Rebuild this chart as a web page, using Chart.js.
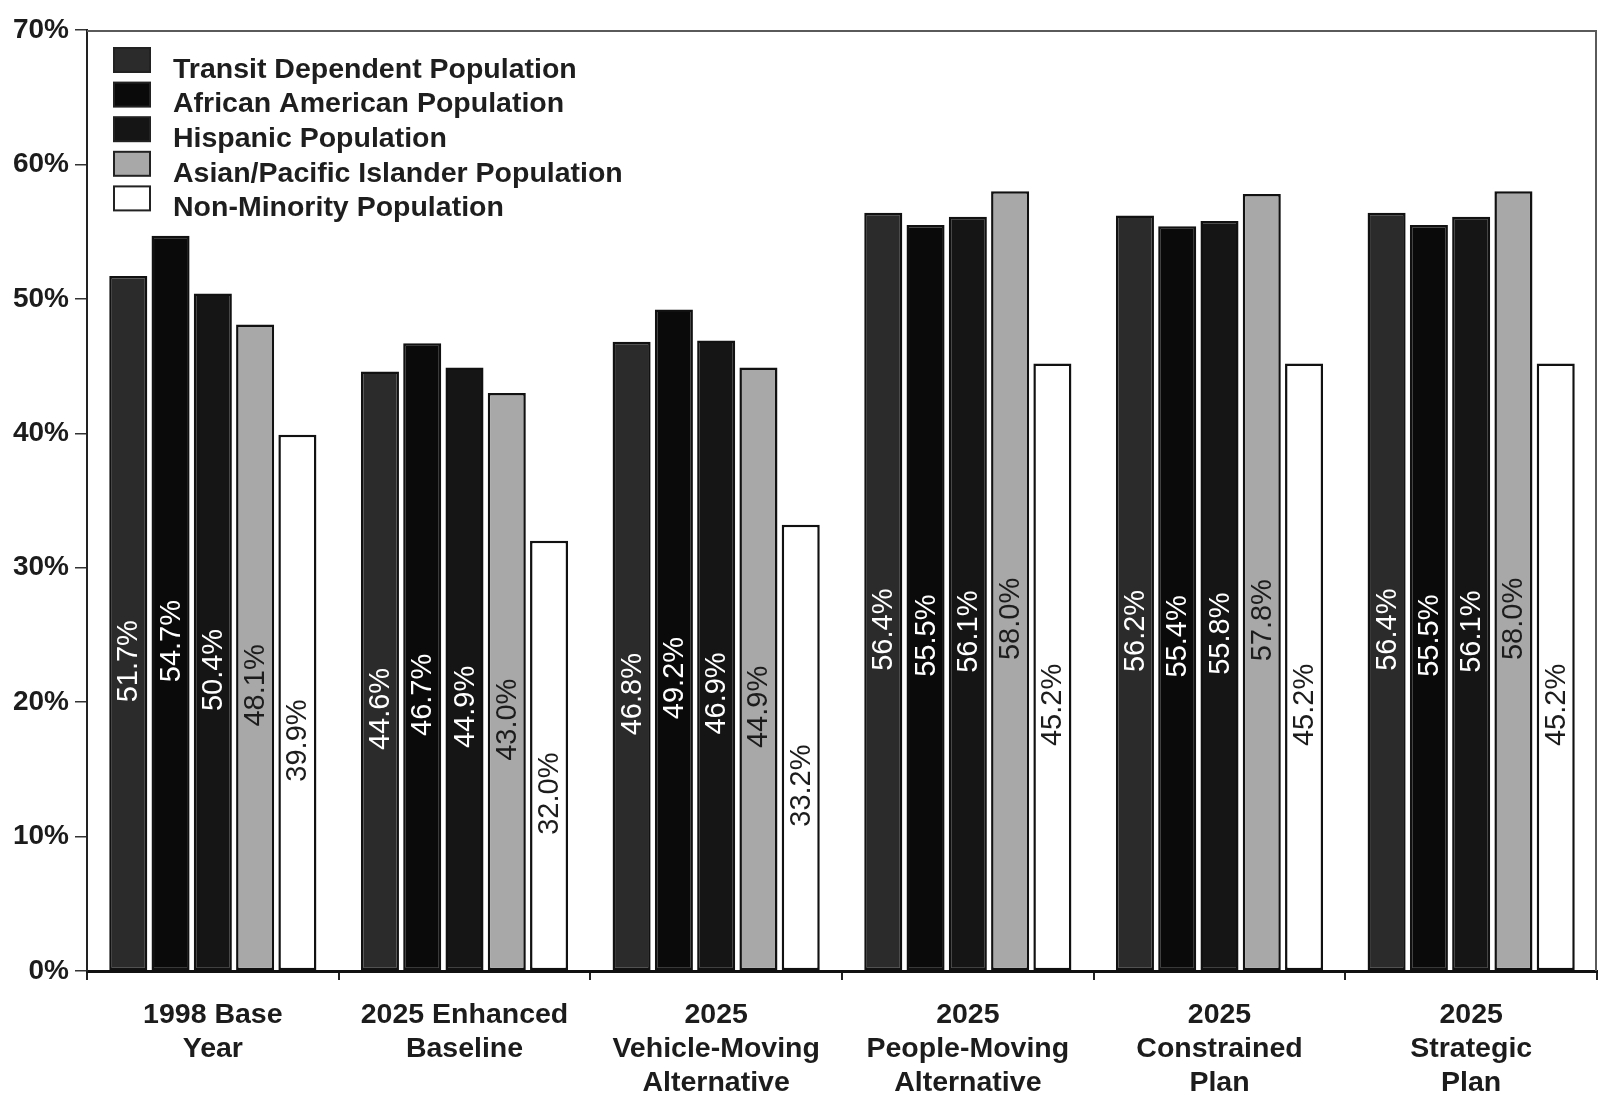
<!DOCTYPE html>
<html>
<head>
<meta charset="utf-8">
<title>Population share by scenario</title>
<script src="https://cdn.jsdelivr.net/npm/chart.js@4/dist/chart.umd.min.js"></script>
<style>
  html, body { margin: 0; padding: 0; background: #ffffff; }
  #wrap { width: 1600px; height: 1096px; position: relative; }
</style>
</head>
<body>
<div id="wrap"><canvas id="chart" width="1600" height="1096"></canvas></div>
<script>
// Scenario categories (multi-line axis labels)
const categories = [
  ["1998 Base", "Year"],
  ["2025 Enhanced", "Baseline"],
  ["2025", "Vehicle-Moving", "Alternative"],
  ["2025", "People-Moving", "Alternative"],
  ["2025", "Constrained", "Plan"],
  ["2025", "Strategic", "Plan"]
];

// Percent of each population group, per scenario
const transitDependent = [51.7, 44.6, 46.8, 56.4, 56.2, 56.4];
const africanAmerican  = [54.7, 46.7, 49.2, 55.5, 55.4, 55.5];
const hispanic         = [50.4, 44.9, 46.9, 56.1, 55.8, 56.1];
const asianPacific     = [48.1, 43.0, 44.9, 58.0, 57.8, 58.0];
const nonMinority      = [39.9, 32.0, 33.2, 45.2, 45.2, 45.2];

const seriesNames = [
  "Transit Dependent Population",
  "African American Population",
  "Hispanic Population",
  "Asian/Pacific Islander Population",
  "Non-Minority Population"
];

// Y axis range and tick spacing
const yMin = 0;
const yMax = 70;
const yStep = 10;

const FONT = "'Liberation Sans', Arial, Helvetica, sans-serif";
const fills = ["#2b2b2b", "#0a0a0a", "#151515", "#a8a8a8", "#ffffff"];
const labelColors = ["#ffffff", "#ffffff", "#ffffff", "#1c1c1c", "#1c1c1c"];
const seriesValues = [transitDependent, africanAmerican, hispanic, asianPacific, nonMinority];

const datasets = seriesValues.map((vals, i) => ({
  label: seriesNames[i],
  data: vals,
  backgroundColor: fills[i],
  borderColor: "#111111",
  borderWidth: 2.5,
  borderSkipped: false,
  categoryPercentage: 0.84,
  barPercentage: 0.9
}));

// Vertical value labels written inside each bar
const barLabels = {
  id: "barLabels",
  afterDatasetsDraw(chart) {
    const ctx = chart.ctx;
    ctx.save();
    ctx.font = "29px " + FONT;
    chart.data.datasets.forEach((ds, di) => {
      const meta = chart.getDatasetMeta(di);
      ctx.fillStyle = labelColors[di];
      meta.data.forEach((bar, i) => {
        const v = ds.data[i];
        const mid = (bar.y + bar.base) / 2;
        ctx.save();
        ctx.translate(bar.x, mid - 3);
        ctx.rotate(-Math.PI / 2);
        ctx.textAlign = "right";
        ctx.textBaseline = "middle";
        ctx.fillText(v.toFixed(1) + "%", 0, 1);
        ctx.restore();
      });
    });
    ctx.restore();
  }
};

// Legend drawn in the upper-left of the plot area, plus the plot frame
const insideLegend = {
  id: "insideLegend",
  afterDraw(chart) {
    const ctx = chart.ctx;
    const area = chart.chartArea;
    ctx.save();
    // frame: top and right edges
    ctx.strokeStyle = "#5a5a5a";
    ctx.lineWidth = 2;
    ctx.beginPath();
    ctx.moveTo(area.left, area.top + 1);
    ctx.lineTo(area.right - 1, area.top + 1);
    ctx.lineTo(area.right - 1, area.bottom);
    ctx.stroke();

    const x0 = area.left + 27;
    const sw = 36, sh = 24;
    ctx.font = "bold 28.5px " + FONT;
    ctx.textBaseline = "middle";
    ctx.textAlign = "left";
    chart.data.datasets.forEach((ds, i) => {
      const cy = area.top + 30 + i * 34.6;
      ctx.fillStyle = ds.backgroundColor;
      ctx.fillRect(x0, cy - sh / 2, sw, sh);
      ctx.strokeStyle = "#222222";
      ctx.lineWidth = 2;
      ctx.strokeRect(x0, cy - sh / 2, sw, sh);
      ctx.fillStyle = "#1e1e1e";
      ctx.fillText(ds.label, x0 + 59, cy + 10);
    });
    ctx.restore();
  }
};

new Chart(document.getElementById("chart"), {
  type: "bar",
  data: { labels: categories, datasets: datasets },
  options: {
    responsive: false,
    animation: false,
    devicePixelRatio: 1,
    layout: { padding: { top: 30, right: 3, left: 0, bottom: 0 } },
    plugins: {
      legend: { display: false },
      tooltip: { enabled: false }
    },
    scales: {
      x: {
        offset: true,
        grid: {
          display: true,
          offset: true,
          drawOnChartArea: false,
          drawTicks: true,
          tickLength: 9,
          color: "#222222",
          lineWidth: 2
        },
        border: { display: true, color: "#111111", width: 3 },
        ticks: {
          color: "#1c1c1c",
          font: { family: FONT, size: 28.5, weight: "bold", lineHeight: 1.2 },
          padding: 18,
          maxRotation: 0,
          autoSkip: false
        },
        afterFit(scale) { scale.height = 125; }
      },
      y: {
        min: yMin,
        max: yMax,
        grid: {
          display: true,
          drawOnChartArea: false,
          drawTicks: true,
          tickLength: 12,
          color: "#333333",
          lineWidth: 1.5
        },
        border: { display: true, color: "#222222", width: 2 },
        ticks: {
          stepSize: yStep,
          color: "#1c1c1c",
          font: { family: FONT, size: 28, weight: "bold" },
          padding: 6,
          callback: (v) => v + "%"
        },
        afterFit(scale) { scale.width = 87; }
      }
    }
  },
  plugins: [barLabels, insideLegend]
});
</script>
</body>
</html>
